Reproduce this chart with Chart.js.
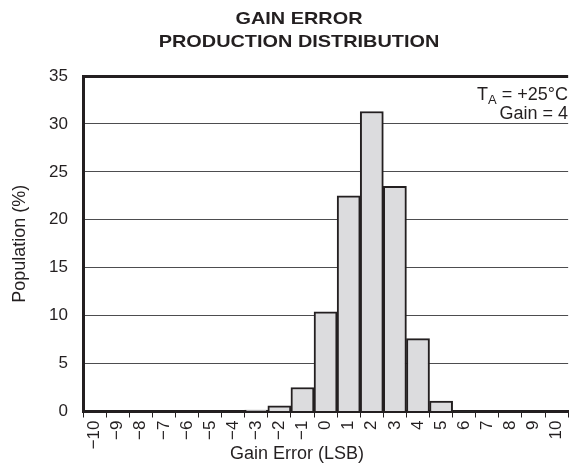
<!DOCTYPE html>
<html>
<head>
<meta charset="utf-8">
<script src="https://cdn.jsdelivr.net/npm/chart.js@4.4.1/dist/chart.umd.min.js"></script>
<style>
  html, body { margin: 0; padding: 0; background: #fff; overflow: hidden; }
  canvas { display: block; }
</style>
</head>
<body>
<canvas id="chart" width="580" height="470"></canvas>
<script>
// gain error bins (LSB) and share of parts in each bin (%)
const gainErrorLsb = ['−10', '−9', '−8', '−7', '−6', '−5', '−4', '−3', '−2', '−1',
  '0', '1', '2', '3', '4', '5', '6', '7', '8', '9', '10'];
const populationPct = [0, 0, 0, 0, 0, 0, 0, 0.15, 0.6, 2.5,
  10.4, 22.5, 31.3, 23.5, 7.6, 1.1, 0.05, 0, 0, 0, 0];
const yTicks = [0, 5, 10, 15, 20, 25, 30, 35];

const titleLines = ['GAIN ERROR', 'PRODUCTION DISTRIBUTION'];
const xTitle = 'Gain Error (LSB)';
const yTitle = 'Population (%)';

const FONT = '"Liberation Sans", Arial, Helvetica, sans-serif';
const INK = '#231f20';

// titles + condition note, drawn straight on the canvas
const textPlugin = {
  id: 'texts',
  afterDraw(chart) {
    const ctx = chart.ctx;
    const area = chart.chartArea;
    ctx.save();
    ctx.fillStyle = INK;
    ctx.textBaseline = 'alphabetic';

    // title is set wide in the original
    ctx.save();
    ctx.translate(299, 0);
    ctx.scale(1.17, 1);
    ctx.font = 'bold 17px ' + FONT;
    ctx.textAlign = 'center';
    ctx.fillText(titleLines[0], 0, 24);
    ctx.fillText(titleLines[1], 0, 47);
    ctx.restore();

    ctx.textAlign = 'center';
    ctx.font = '18px ' + FONT;
    ctx.fillText(xTitle, 297, 459);

    ctx.save();
    ctx.translate(25, (area.top + area.bottom) / 2);
    ctx.rotate(-Math.PI / 2);
    ctx.fillText(yTitle, 0, 0);
    ctx.restore();

    // T_A = +25°C / Gain = 4, right aligned at top right
    const right = 568;
    ctx.textAlign = 'right';
    ctx.font = '18px ' + FONT;
    const rest = ' = +25°C';
    const restW = ctx.measureText(rest).width;
    ctx.fillText(rest, right, 100);
    ctx.font = '13px ' + FONT;
    const subW = ctx.measureText('A').width;
    ctx.fillText('A', right - restW, 104);
    ctx.font = '18px ' + FONT;
    ctx.fillText('T', right - restW - subW, 100);
    ctx.fillText('Gain = 4', right, 119);
    ctx.restore();
  }
};

new Chart(document.getElementById('chart'), {
  type: 'bar',
  data: {
    labels: gainErrorLsb,
    datasets: [{
      data: populationPct,
      backgroundColor: '#dcdcde',
      borderColor: INK,
      borderWidth: 2,
      borderSkipped: 'start',
      barPercentage: 1,
      categoryPercentage: 1
    }]
  },
  options: {
    responsive: false,
    animation: false,
    layout: { padding: { top: 76, right: 0, bottom: 0, left: 0 } },
    plugins: {
      legend: { display: false },
      title: { display: false },
      tooltip: { enabled: false }
    },
    scales: {
      x: {
        type: 'category',
        offset: true,
        grid: {
          offset: true,
          drawOnChartArea: false,
          drawTicks: true,
          tickLength: 6,
          color: INK,
          lineWidth: 1
        },
        border: { display: true, color: INK, width: 3 },
        ticks: {
          color: INK,
          font: { family: FONT, size: 17 },
          minRotation: 90,
          maxRotation: 90,
          autoSkip: false,
          padding: 3
        },
        afterFit(scale) { scale.height = 58.5; }
      },
      y: {
        min: 0,
        max: 35,
        afterBuildTicks(scale) { scale.ticks = yTicks.map(v => ({ value: v })); },
        grid: {
          drawTicks: false,
          color: ctx => (ctx.tick && ctx.tick.value === 35) ? INK : '#4d4d4f',
          lineWidth: ctx => (ctx.tick && ctx.tick.value === 35) ? 3 : 1
        },
        border: { display: true, color: INK, width: 3 },
        ticks: {
          color: INK,
          font: { family: FONT, size: 17 },
          padding: 15
        },
        afterFit(scale) { scale.width = 83; }
      }
    }
  },
  plugins: [textPlugin]
});
</script>
</body>
</html>
